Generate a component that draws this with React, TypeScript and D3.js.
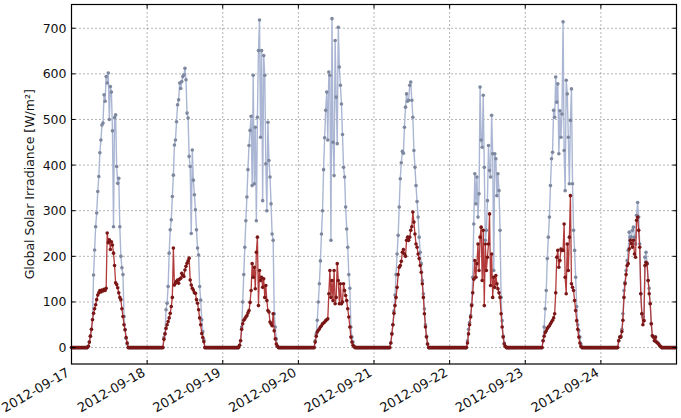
import React from 'react';
import * as d3 from 'd3';

// one tick per day on the x axis
const dayLabels = [
  '2012-09-17', '2012-09-18', '2012-09-19', '2012-09-20',
  '2012-09-21', '2012-09-22', '2012-09-23', '2012-09-24',
];
const yTicks = [0, 100, 200, 300, 400, 500, 600, 700];
const yLimits = [-36, 752];

// readings every 20 minutes; each day's list starts at this slot (0 = midnight), zero elsewhere
const slotMinutes = 20;
const firstSlot = [15, 15, 15, 15, 15, 16, 16, 16];

// blue series (W/m²)
const blue17 = [0, 3, 12, 25, 40, 61, 159, 214, 265, 295, 342, 375, 427, 455, 488, 492, 554, 540, 594, 580, 602, 500, 572, 560, 475, 265, 504, 510, 397, 360, 371, 265, 200, 175, 160, 68, 39, 20, 8, 0];
const blue18 = [0, 22, 31, 83, 97, 134, 207, 258, 280, 331, 378, 444, 455, 495, 532, 543, 580, 568, 583, 594, 598, 612, 587, 514, 503, 419, 397, 250, 433, 367, 335, 302, 258, 218, 203, 134, 104, 61, 35, 17, 0];
const blue19 = [0, 5, 15, 45, 100, 160, 220, 278, 330, 390, 443, 476, 507, 355, 597, 359, 483, 278, 505, 651, 718, 461, 651, 322, 640, 597, 403, 300, 494, 410, 374, 315, 249, 235, 74, 45, 19, 4, 0];
const blue20 = [0, 15, 30, 60, 100, 140, 190, 249, 300, 390, 460, 520, 560, 455, 604, 597, 235, 721, 450, 377, 673, 549, 447, 702, 615, 575, 534, 467, 395, 374, 308, 260, 220, 160, 130, 45, 23, 12, 3, 0];
const blue21 = [0, 10, 30, 50, 80, 115, 160, 205, 246, 308, 370, 405, 430, 426, 483, 527, 556, 540, 542, 575, 582, 542, 505, 432, 395, 355, 320, 286, 242, 209, 184, 147, 118, 85, 50, 25, 8, 0];
const blue22 = [0, 15, 40, 55, 70, 95, 154, 271, 381, 315, 374, 286, 337, 571, 455, 439, 553, 395, 235, 257, 322, 443, 388, 374, 509, 425, 169, 425, 414, 333, 381, 344, 257, 110, 59, 25, 10, 3, 0];
const blue23 = [0, 15, 45, 85, 125, 195, 242, 286, 355, 414, 428, 520, 505, 593, 538, 578, 425, 519, 461, 512, 714, 432, 344, 586, 556, 461, 359, 498, 567, 359, 257, 213, 154, 90, 50, 37, 23, 8, 0];
const blue24 = [0, 15, 23, 25, 40, 74, 125, 143, 169, 191, 213, 253, 242, 242, 257, 264, 242, 227, 290, 318, 286, 227, 118, 74, 67, 59, 198, 209, 184, 147, 130, 96, 52, 26, 23, 15, 23, 12, 10, 8, 4, 2, 0];

// red series (W/m²)
const red17 = [0, 3, 12, 25, 40, 61, 75, 85, 94, 105, 115, 120, 125, 122, 126, 124, 128, 125, 130, 251, 230, 236, 215, 232, 225, 207, 180, 142, 138, 131, 120, 110, 105, 85, 68, 50, 39, 22, 10, 0];
const red18 = [0, 18, 30, 42, 50, 57, 65, 75, 90, 110, 218, 137, 141, 145, 148, 141, 150, 152, 163, 158, 156, 170, 178, 185, 190, 196, 148, 137, 130, 126, 120, 119, 105, 97, 83, 65, 50, 31, 22, 13, 0];
const red19 = [0, 5, 15, 40, 52, 60, 63, 67, 70, 76, 81, 99, 125, 184, 154, 176, 129, 209, 242, 92, 169, 147, 154, 132, 151, 110, 136, 103, 81, 78, 56, 52, 48, 74, 37, 19, 8, 3, 0];
const red20 = [0, 12, 25, 34, 38, 41, 45, 48, 52, 54, 56, 59, 61, 63, 118, 169, 110, 147, 103, 169, 96, 110, 184, 147, 96, 140, 96, 100, 140, 125, 114, 103, 85, 67, 45, 23, 12, 5, 2, 0];
const red21 = [0, 10, 30, 50, 75, 92, 110, 132, 160, 176, 180, 189, 209, 215, 205, 200, 235, 242, 235, 242, 257, 265, 297, 275, 249, 227, 220, 205, 195, 180, 165, 140, 110, 74, 45, 23, 8, 0];
const red22 = [0, 10, 30, 50, 67, 92, 120, 150, 191, 154, 184, 227, 169, 242, 264, 147, 257, 92, 227, 169, 198, 227, 293, 136, 205, 110, 154, 132, 158, 140, 129, 120, 110, 74, 45, 23, 8, 3, 0];
const red23 = [0, 15, 25, 33, 37, 42, 45, 48, 52, 56, 60, 65, 74, 120, 198, 213, 176, 191, 216, 213, 213, 271, 154, 118, 227, 169, 242, 333, 140, 132, 125, 103, 81, 59, 40, 23, 10, 3, 0];
const red24 = [0, 15, 23, 23, 35, 60, 110, 140, 160, 180, 184, 216, 235, 228, 220, 235, 205, 198, 279, 286, 257, 220, 118, 74, 50, 59, 180, 187, 184, 147, 118, 96, 52, 26, 23, 15, 23, 12, 10, 8, 4, 2, 0];

const blueDays = [blue17, blue18, blue19, blue20, blue21, blue22, blue23, blue24];
const redDays = [red17, red18, red19, red20, red21, red22, red23, red24];

type Pt = { t: Date; v: number };

function buildSeries(days: number[][]): Pt[] {
  const out: Pt[] = [];
  const slotsPerDay = (24 * 60) / slotMinutes;
  days.forEach((vals, d) => {
    const base = new Date(dayLabels[d] + 'T00:00:00');
    for (let s = 0; s < slotsPerDay; s++) {
      const i = s - firstSlot[d];
      const v = i >= 0 && i < vals.length ? vals[i] : 0;
      out.push({ t: d3.timeMinute.offset(base, s * slotMinutes), v });
    }
  });
  return out;
}

const W = 681;
const H = 418;
const margin = { left: 71.5, right: 4.5, top: 4.5, bottom: 54 };
const font = "'DejaVu Sans', sans-serif";

export default function App() {
  const blue = buildSeries(blueDays);
  const red = buildSeries(redDays);

  const x0 = new Date(dayLabels[0] + 'T00:00:00');
  const x1 = d3.timeDay.offset(new Date(dayLabels[dayLabels.length - 1] + 'T00:00:00'), 1);
  const x = d3.scaleTime().domain([x0, x1]).range([margin.left, W - margin.right]);
  const y = d3.scaleLinear().domain(yLimits).range([H - margin.bottom, margin.top]);

  const line = d3.line<Pt>().x((d) => x(d.t)).y((d) => y(d.v));
  const dayTicks = dayLabels.map((l) => new Date(l + 'T00:00:00'));

  const left = margin.left;
  const right = W - margin.right;
  const top = margin.top;
  const bottom = H - margin.bottom;

  return (
    <svg width={W} height={H} style={{ position: 'absolute', left: 0, top: 0, background: '#fff' }}>
      {/* grid */}
      <g stroke="#444" strokeWidth={0.8} strokeDasharray="1,3">
        {dayTicks.slice(1).map((t, i) => (
          <line key={'gx' + i} x1={x(t)} x2={x(t)} y1={top} y2={bottom} />
        ))}
        {yTicks.map((v) => (
          <line key={'gy' + v} x1={left} x2={right} y1={y(v)} y2={y(v)} />
        ))}
      </g>

      {/* series */}
      <path d={line(blue) || ''} fill="none" stroke="#aab6d3" strokeWidth={1.4} />
      <g fill="#7d889f">
        {blue.map((d, i) => (
          <circle key={'b' + i} cx={x(d.t)} cy={y(d.v)} r={1.8} />
        ))}
      </g>
      <path d={line(red) || ''} fill="none" stroke="#b23a3a" strokeWidth={1.3} />
      <g fill="#7a1616">
        {red.map((d, i) => (
          <circle key={'r' + i} cx={x(d.t)} cy={y(d.v)} r={1.8} />
        ))}
      </g>

      {/* ticks inside on all sides */}
      <g stroke="#000" strokeWidth={1}>
        {dayTicks.map((t, i) => (
          <g key={'tx' + i}>
            <line x1={x(t)} x2={x(t)} y1={bottom} y2={bottom - 4} />
            <line x1={x(t)} x2={x(t)} y1={top} y2={top + 4} />
          </g>
        ))}
        {yTicks.map((v) => (
          <g key={'ty' + v}>
            <line x1={left} x2={left + 4} y1={y(v)} y2={y(v)} />
            <line x1={right} x2={right - 4} y1={y(v)} y2={y(v)} />
          </g>
        ))}
      </g>

      {/* frame */}
      <rect x={left} y={top} width={right - left} height={bottom - top} fill="none" stroke="#000" strokeWidth={1.2} />

      {/* y tick labels */}
      <g fontFamily={font} fontSize={12.5} fill="#111" textAnchor="end">
        {yTicks.map((v) => (
          <text key={'yl' + v} x={left - 5} y={y(v)} dy="0.36em">
            {v}
          </text>
        ))}
      </g>

      {/* x tick labels, rotated 30° and ending at the tick */}
      <g fontFamily={font} fontSize={13} fill="#111" textAnchor="end">
        {dayTicks.map((t, i) => (
          <text key={'xl' + i} transform={`translate(${x(t) - 1},${bottom + 11}) rotate(-30)`}>
            {dayLabels[i]}
          </text>
        ))}
      </g>

      <text
        transform={`translate(${34},${(top + bottom) / 2}) rotate(-90)`}
        textAnchor="middle"
        fontFamily={font}
        fontSize={12.5}
        fill="#111"
      >
        Global Solar Irradiance [W/m²]
      </text>
    </svg>
  );
}
